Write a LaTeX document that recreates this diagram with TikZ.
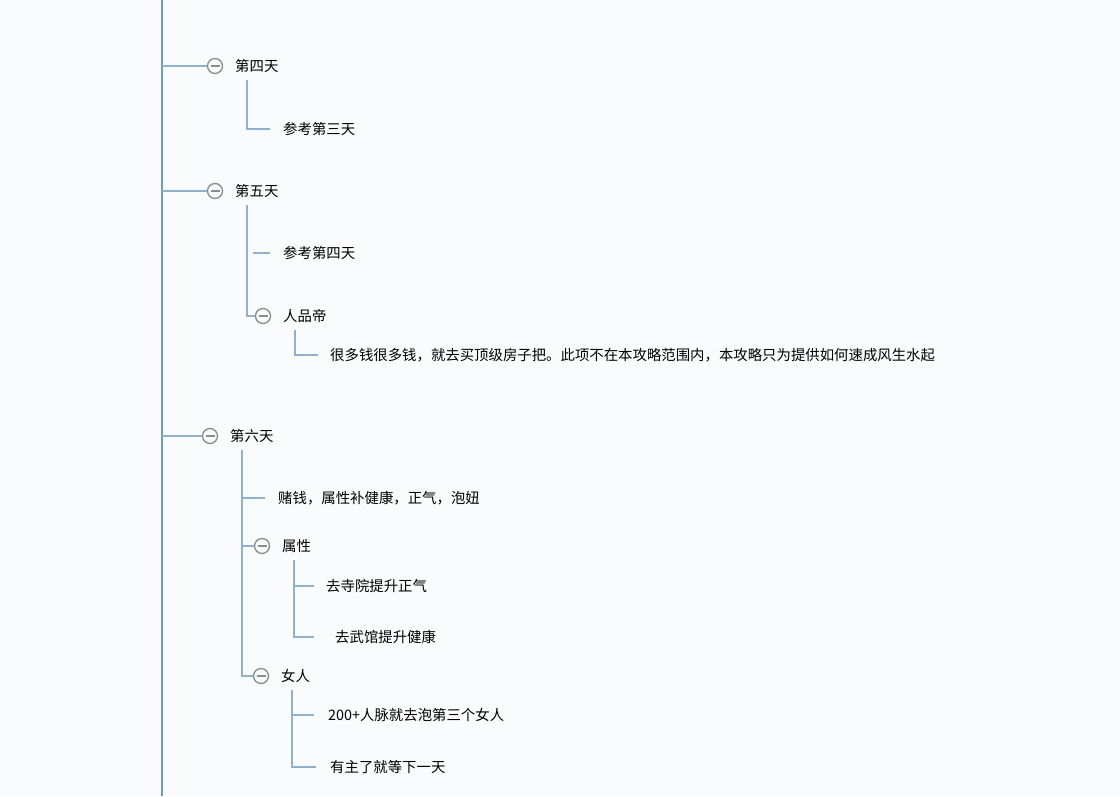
\documentclass[tikz,border=0pt]{standalone}
\usepackage{fontspec}
\newfontfamily\cjk{Noto Sans CJK SC}
\usetikzlibrary{positioning}
\definecolor{trunkblue}{HTML}{6E9BC0}
\definecolor{linkblue}{HTML}{8FB1CC}
\definecolor{bgpaper}{HTML}{FAFBFC}
\tikzset{
  topic/.style={anchor=west, inner sep=0pt, font=\cjk\fontsize{14.4}{16}\selectfont},
  fold/.style={circle, draw=gray!90, line width=1.3pt, minimum size=15pt, inner sep=0pt,
    path picture={\draw[gray!90, line width=1.3pt] ([xshift=-4.5pt]path picture bounding box.center) -- ([xshift=4.5pt]path picture bounding box.center);}},
  link/.style={draw=linkblue, line width=1.4pt}
}
\begin{document}
\begin{tikzpicture}[x=1pt, y=-1pt]
\fill[bgpaper] (0,0) rectangle (1120,796);
\useasboundingbox (0,0) rectangle (1120,796);

% trunk
\coordinate (top) at (162,0);
\coordinate (bot) at (162,796);
\draw[trunkblue, line width=2.5pt] (top) -- (bot);

% day four
\node[fold] (f4) at (215,66) {};
\node[topic] (d4) at (235,66) {第四天};
\node[topic] (d4a) at (283,129) {参考第三天};
\draw[link] (162,66) -- (f4);
\draw[link] (247,80) |- ([xshift=-13pt]d4a.west);

% day five
\node[fold] (f5) at (215,191) {};
\node[topic] (d5) at (235,191) {第五天};
\node[topic] (d5a) at (283,253) {参考第四天};
\node[fold] (f5b) at (263,316) {};
\node[topic] (d5b) at (283,316) {人品帝};
\node[topic] (d5c) at (330,355) {很多钱很多钱，就去买顶级房子把。此项不在本攻略范围内，本攻略只为提供如何速成风生水起};
\draw[link] (162,191) -- (f5);
\draw[link] (247,205) |- (f5b);
\draw[link] (253,253) -- ([xshift=-13pt]d5a.west);
\draw[link] (295,330) |- ([xshift=-12pt]d5c.west);

% day six
\node[fold] (f6) at (210,436) {};
\node[topic] (d6) at (230,436) {第六天};
\node[topic] (d6a) at (278,498) {赌钱，属性补健康，正气，泡妞};
\node[fold] (f6b) at (262,546) {};
\node[topic] (d6b) at (282,546) {属性};
\node[topic] (d6b1) at (326,586) {去寺院提升正气};
\node[topic] (d6b2) at (335,637) {去武馆提升健康};
\node[fold] (f6c) at (261,676) {};
\node[topic] (d6c) at (281,676) {女人};
\node[topic] (d6c1) at (328,715) {200+人脉就去泡第三个女人};
\node[topic] (d6c2) at (330,767) {有主了就等下一天};
\draw[link] (162,436) -- (f6);
\draw[link] (242,450) |- (f6c);
\draw[link] (242,498) -- ([xshift=-13pt]d6a.west);
\draw[link] (242,546) -- (f6b);
\draw[link] (294,560) |- ([xshift=-21pt]d6b2.west);
\draw[link] (294,586) -- ([xshift=-12pt]d6b1.west);
\draw[link] (292,690) |- ([xshift=-14pt]d6c2.west);
\draw[link] (292,715) -- ([xshift=-14pt]d6c1.west);
\end{tikzpicture}
\end{document}
